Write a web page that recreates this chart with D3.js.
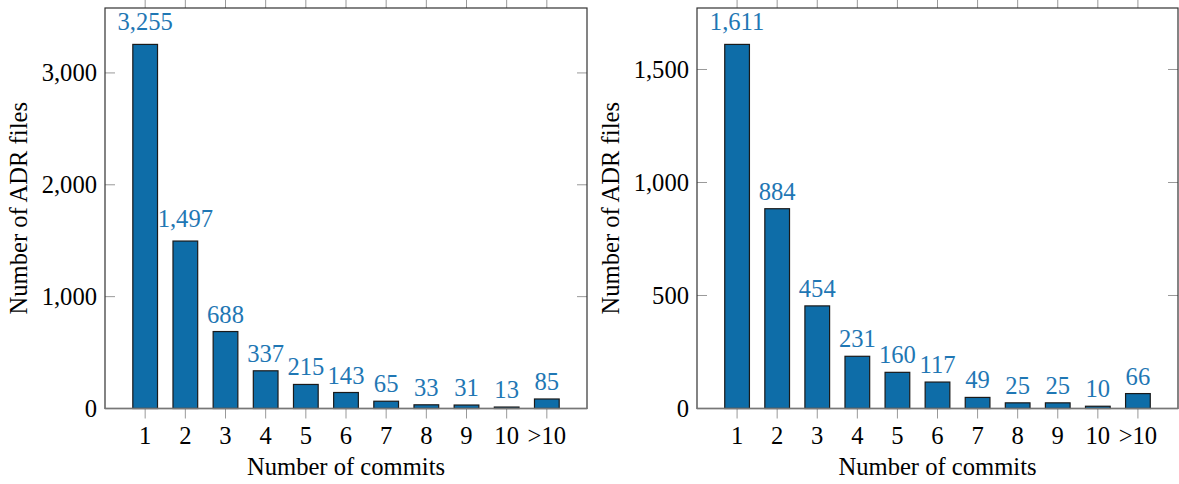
<!DOCTYPE html>
<html>
<head>
<meta charset="utf-8">
<script src="https://cdn.jsdelivr.net/npm/d3@7"></script>
<style>
  body { margin: 0; background: #fff; }
  text { font-family: "Liberation Serif", "Times New Roman", serif; }
</style>
</head>
<body>
<div id="chart"></div>
<script>
var categories = ["1", "2", "3", "4", "5", "6", "7", "8", "9", "10", ">10"];
var leftValues = [3255, 1497, 688, 337, 215, 143, 65, 33, 31, 13, 85];
var rightValues = [1611, 884, 454, 231, 160, 117, 49, 25, 25, 10, 66];
var leftTicks = [0, 1000, 2000, 3000];
var rightTicks = [0, 500, 1000, 1500];

var W = 1179, H = 484;
var plotTop = 8, plotBottom = 408.5;
var fmt = d3.format(",");
var fontSize = 24.6;

var svg = d3.select("#chart")
  .append("svg")
    .attr("width", W)
    .attr("height", H);

function panel(x0, x1, values, ticks) {
  var g = svg.append("g");

  var x = d3.scaleLinear()
    .domain([0, categories.length + 1])
    .range([x0, x1]);

  var y = d3.scaleLinear()
    .domain([0, d3.max(values) * 1.1])
    .range([plotBottom, plotTop]);

  var barW = 24.7;

  // top ticks (outside)
  g.selectAll("line.ttick")
    .data(categories)
    .enter()
    .append("line")
      .attr("x1", function(d, i) { return x(i + 1); })
      .attr("x2", function(d, i) { return x(i + 1); })
      .attr("y1", 0)
      .attr("y2", plotTop)
      .attr("stroke", "#999")
      .attr("stroke-width", 1);

  // bottom ticks (outside)
  g.selectAll("line.btick")
    .data(categories)
    .enter()
    .append("line")
      .attr("x1", function(d, i) { return x(i + 1); })
      .attr("x2", function(d, i) { return x(i + 1); })
      .attr("y1", plotBottom)
      .attr("y2", plotBottom + 10)
      .attr("stroke", "#999")
      .attr("stroke-width", 1);

  // y ticks inward on both sides
  ticks.forEach(function(t) {
    g.append("line")
      .attr("x1", x0).attr("x2", x0 + 10)
      .attr("y1", y(t)).attr("y2", y(t))
      .attr("stroke", "#999");
    g.append("line")
      .attr("x1", x1).attr("x2", x1 - 10)
      .attr("y1", y(t)).attr("y2", y(t))
      .attr("stroke", "#999");
    g.append("text")
      .attr("x", x0 - 8)
      .attr("y", y(t))
      .attr("dy", "0.34em")
      .attr("text-anchor", "end")
      .style("font-size", fontSize + "px")
      .text(fmt(t));
  });

  // bars
  g.selectAll("rect.bar")
    .data(values)
    .enter()
    .append("rect")
      .attr("class", "bar")
      .attr("x", function(d, i) { return x(i + 1) - barW / 2; })
      .attr("y", function(d) { return y(d); })
      .attr("width", barW)
      .attr("height", function(d) { return plotBottom - y(d); })
      .attr("fill", "#0e6da8")
      .attr("stroke", "#1a1a1a")
      .attr("stroke-width", 1.2);

  // value labels
  g.selectAll("text.val")
    .data(values)
    .enter()
    .append("text")
      .attr("class", "val")
      .attr("x", function(d, i) { return x(i + 1); })
      .attr("y", function(d) { return y(d) - (d >= 1000 ? 14 : 9); })
      .attr("text-anchor", "middle")
      .attr("fill", "#1f77b4")
      .style("font-size", fontSize + "px")
      .text(function(d) { return fmt(d); });

  // x tick labels
  g.selectAll("text.cat")
    .data(categories)
    .enter()
    .append("text")
      .attr("class", "cat")
      .attr("x", function(d, i) { return x(i + 1); })
      .attr("y", 443.5)
      .attr("text-anchor", "middle")
      .style("font-size", fontSize + "px")
      .text(function(d) { return d; });

  // frame
  g.append("rect")
    .attr("x", x0).attr("y", plotTop)
    .attr("width", x1 - x0).attr("height", plotBottom - plotTop)
    .attr("fill", "none")
    .attr("stroke", "#333")
    .attr("stroke-width", 1.2);

  g.append("line")
    .attr("x1", x0).attr("x2", x1)
    .attr("y1", plotBottom).attr("y2", plotBottom)
    .attr("stroke", "#777")
    .attr("stroke-width", 1.5);

  g.append("text")
    .attr("x", (x0 + x1) / 2)
    .attr("y", 475)
    .attr("text-anchor", "middle")
    .style("font-size", fontSize + "px")
    .text("Number of commits");

  g.append("text")
    .attr("transform", "translate(" + (x0 - 78) + "," + ((plotTop + plotBottom) / 2) + ")rotate(-90)")
    .attr("text-anchor", "middle")
    .style("font-size", fontSize + "px")
    .text("Number of ADR files");
}

panel(105, 587, leftValues, leftTicks);
panel(697, 1178, rightValues, rightTicks);
</script>
</body>
</html>
